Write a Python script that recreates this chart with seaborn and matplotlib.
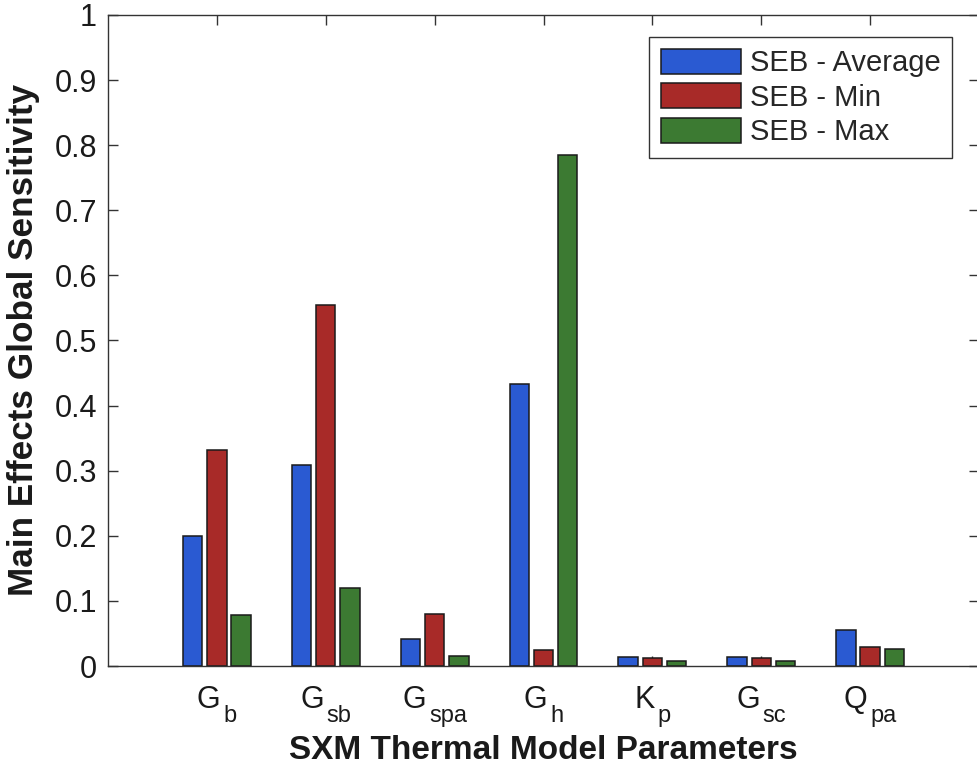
import matplotlib
matplotlib.use("Agg")
import matplotlib.pyplot as plt
import seaborn as sns
import pandas as pd

# Parameters: symbol and subscript, plus the three sensitivity series
param_symbols = ["G", "G", "G", "G", "K", "G", "Q"]
param_subscripts = ["b", "sb", "spa", "h", "p", "sc", "pa"]
parameters = [s + "_" + sub for s, sub in zip(param_symbols, param_subscripts)]
series_names = ["SEB - Average", "SEB - Min", "SEB - Max"]
seb_average = [0.199, 0.308, 0.042, 0.433, 0.014, 0.014, 0.055]
seb_min = [0.332, 0.555, 0.080, 0.025, 0.013, 0.013, 0.029]
seb_max = [0.078, 0.120, 0.015, 0.785, 0.008, 0.008, 0.026]
y_ticks = [0, 0.1, 0.2, 0.3, 0.4, 0.5, 0.6, 0.7, 0.8, 0.9, 1]
y_tick_labels = ["0", "0.1", "0.2", "0.3", "0.4", "0.5", "0.6", "0.7", "0.8", "0.9", "1"]

bar_colors = ["#2a5ad2", "#a82a28", "#3c7a32"]

rows = []
for name, values in zip(series_names, [seb_average, seb_min, seb_max]):
    for p, v in zip(parameters, values):
        rows.append({"Parameter": p, "Series": name, "Value": v})
df = pd.DataFrame(rows)

sns.set_style("ticks")
plt.rcParams["font.family"] = ["Liberation Sans", "DejaVu Sans"]

fig = plt.figure(figsize=(9.77, 7.74), dpi=100)
ax = fig.add_axes([108 / 977, 1 - 666 / 774, 871 / 977, 651 / 774])

sns.barplot(data=df, x="Parameter", y="Value", hue="Series",
            order=parameters, hue_order=series_names,
            palette=bar_colors, errorbar=None, width=0.667, gap=0.2,
            edgecolor="#1a1a1a", linewidth=1.1, saturation=1, ax=ax)

ax.set_xlim(-1, 7)
ax.set_ylim(0, 1)
ax.set_yticks(y_ticks)
ax.set_yticklabels(y_tick_labels)
ax.set_xticks(range(len(parameters)))
ax.set_xticklabels([])

for side in ["left", "right", "top", "bottom"]:
    ax.spines[side].set_visible(True)
    ax.spines[side].set_color("#333333")
    ax.spines[side].set_linewidth(1.0)

ax.tick_params(axis="both", direction="in", length=7, width=1.0, color="#333333",
               top=True, right=True, labelsize=22, labelcolor="#1a1a1a")
ax.tick_params(axis="y", pad=8)

# Category labels: symbol with a lowered subscript, centred as a unit on each tick
renderer = fig.canvas.get_renderer()
xform = ax.get_xaxis_transform()
gap_px = 3
main_dy, sub_dy = -42, -56
for i, (sym, sub) in enumerate(zip(param_symbols, param_subscripts)):
    t_main = ax.annotate(sym, xy=(i, 0), xycoords=xform, xytext=(0, main_dy),
                         textcoords="offset pixels", ha="left", va="baseline",
                         fontsize=22, color="#1a1a1a", annotation_clip=False)
    t_sub = ax.annotate(sub, xy=(i, 0), xycoords=xform, xytext=(0, sub_dy),
                        textcoords="offset pixels", ha="left", va="baseline",
                        fontsize=17, color="#1a1a1a", annotation_clip=False)
    w_main = t_main.get_window_extent(renderer).width
    w_sub = t_sub.get_window_extent(renderer).width
    total = w_main + gap_px + w_sub
    t_main.xyann = (-total / 2, main_dy)
    t_sub.xyann = (-total / 2 + w_main + gap_px, sub_dy)

ax.set_xlabel("SXM Thermal Model Parameters", fontsize=24, fontweight="bold",
              color="#1a1a1a")
ax.xaxis.set_label_coords(0.5, -0.106)
ax.set_ylabel("Main Effects Global Sensitivity", fontsize=25.3, fontweight="bold",
              color="#1a1a1a", labelpad=10)

leg = ax.legend(loc="upper right", bbox_to_anchor=(0.969, 0.966), borderaxespad=0,
                fontsize=21, frameon=True, fancybox=False, framealpha=1,
                edgecolor="#333333", handlelength=2.75, handleheight=0.95,
                handletextpad=0.3, labelspacing=0.2, borderpad=0.4)
leg.get_frame().set_linewidth(1.0)
leg.set_title(None)

fig.savefig("out.png", dpi=100)
